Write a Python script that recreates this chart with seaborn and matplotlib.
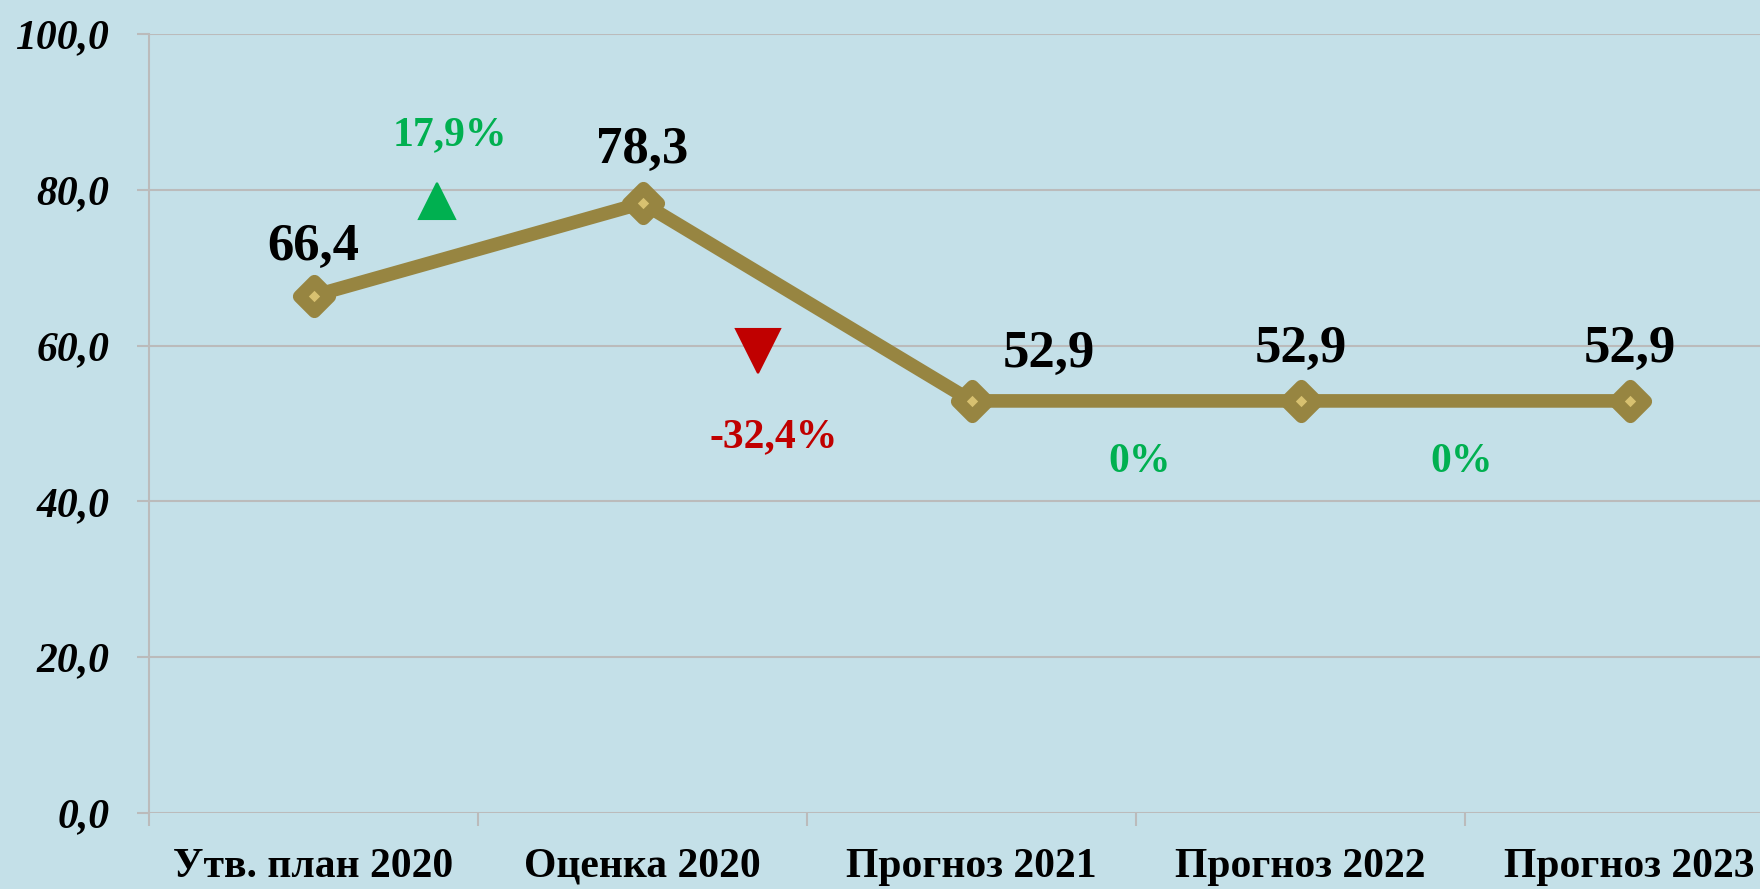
import matplotlib
matplotlib.use("Agg")
import matplotlib.pyplot as plt
import seaborn as sns
import pandas as pd

# ---- data ----
categories = ["Утв. план 2020", "Оценка 2020", "Прогноз 2021", "Прогноз 2022", "Прогноз 2023"]
values = [66.4, 78.3, 52.9, 52.9, 52.9]
value_labels = ["66,4", "78,3", "52,9", "52,9", "52,9"]
change_labels = ["17,9%", "-32,4%", "0%", "0%"]
change_dirs = ["up", "down", "none", "none"]
y_ticks = [0, 20, 40, 60, 80, 100]
y_tick_labels = ["0,0", "20,0", "40,0", "60,0", "80,0", "100,0"]

# ---- layout / style ----
BG = "#C4E0E8"
LINE = "#978541"
FILL = "#D8C170"
GREEN = "#00B050"
RED = "#C00000"
GRID = "#BBBBBB"
SERIF = ["Liberation Serif", "DejaVu Serif"]

value_offsets_pt = [(0, 26), (0, 29), (56, 24.5), (0, 28), (0, 28)]
change_pos = [(0.415, 85.7), (1.40, 47.0), (2.51, 43.8), (3.49, 43.8)]
arrow_pos = [(0.376, 78.5), (1.351, 59.3)]

sns.set_theme(style="white")
plt.rcParams["font.family"] = SERIF
plt.rcParams["text.color"] = "black"
plt.rcParams["xtick.color"] = "black"
plt.rcParams["ytick.color"] = "black"

fig = plt.figure(figsize=(17.6, 8.89), dpi=100, facecolor=BG)
ax = fig.add_axes([149 / 1760, 76 / 889, 1645 / 1760, 779 / 889])
ax.set_facecolor(BG)

df = pd.DataFrame({"cat": categories, "val": values})
sns.lineplot(data=df, x="cat", y="val", ax=ax, sort=False, color=LINE,
             linewidth=9.8, marker="D", markersize=15.5,
             markerfacecolor=FILL, markeredgecolor=LINE, markeredgewidth=9.5,
             solid_joinstyle="round", solid_capstyle="round", zorder=3)
for line in ax.get_lines():
    line.set_marker(matplotlib.markers.MarkerStyle("D", joinstyle="round"))
    line.set_markeredgewidth(9.5)

ax.set_xlim(-0.5, 4.5)
ax.set_ylim(0, 100)
ax.set_yticks(y_ticks)
ax.set_yticklabels(y_tick_labels, fontsize=30, fontweight="bold", fontstyle="italic",
                   color="black")
ax.set_xticks(range(len(categories)))
ax.set_xticklabels(categories, fontsize=30, fontweight="bold", color="black")
ax.set_xticks([i - 0.5 for i in range(len(categories) + 1)], minor=True)
ax.tick_params(axis="x", which="major", length=0, pad=25, bottom=True)
ax.tick_params(axis="x", which="minor", length=9.5, width=1.5, color=GRID,
               direction="out", bottom=True)
ax.tick_params(axis="y", which="major", length=8.6, width=1.5, color=GRID,
               direction="out", pad=20, left=True)
ax.set_xlabel("")
ax.set_ylabel("")
ax.grid(axis="y", color=GRID, linewidth=1.5, zorder=0)
ax.grid(axis="x", visible=False)
for s in ["top", "right", "bottom"]:
    ax.spines[s].set_visible(False)
ax.spines["left"].set_color(GRID)
ax.spines["left"].set_linewidth(1.5)
ax.set_axisbelow(True)

for i, (lab, off) in enumerate(zip(value_labels, value_offsets_pt)):
    ax.annotate(lab, (i, values[i]), xytext=off, textcoords="offset points",
                ha="center", va="baseline", fontsize=38, fontweight="bold",
                color="black", zorder=5)

for lab, d, (x, y) in zip(change_labels, change_dirs, change_pos):
    ax.text(x, y, lab, ha="center", va="baseline", fontsize=30, fontweight="bold",
            color=RED if d == "down" else GREEN, zorder=5)

ax.plot([arrow_pos[0][0]], [arrow_pos[0][1]], marker="^", markersize=26, color=GREEN,
        markeredgecolor=GREEN, markeredgewidth=1.5, linestyle="none", zorder=4)
ax.plot([arrow_pos[1][0]], [arrow_pos[1][1]], marker="v", markersize=31, color=RED,
        markeredgecolor=RED, markeredgewidth=1.5, linestyle="none", zorder=4)

fig.savefig("out.png", dpi=100, facecolor=BG)
